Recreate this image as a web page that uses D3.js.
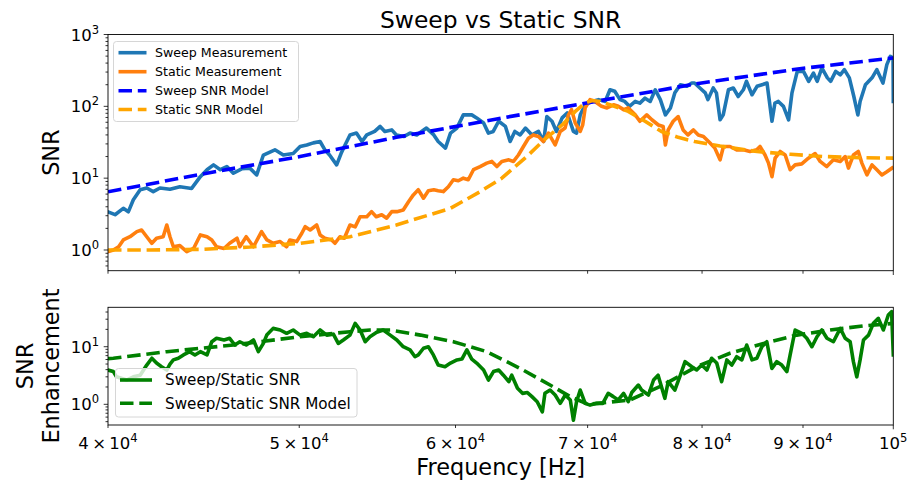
<html>
<head>
<script src="https://d3js.org/d3.v7.min.js"></script>
<style>
  body { margin: 0; background: #fff; }
  text { font-family: "DejaVu Sans", sans-serif; fill: #000; }
</style>
</head>
<body>
<div id="cont"></div>
<script>
// frequencies in kHz, values are linear SNR
var sweepMeas = [[40.0,3.4],[40.33,3.1],[40.72,3.8],[40.96,3.4],[41.2,5.0],[41.53,6.9],[41.85,7.3],[42.17,6.5],[42.5,7.3],[43.0,7.0],[43.5,7.6],[44.1,7.2],[44.55,10.5],[44.9,13.1],[45.24,15.3],[45.6,13.1],[45.95,14.5],[46.3,11.7],[46.75,13.5],[47.2,13.8],[47.58,11.1],[47.95,21],[48.6,24.8],[49.08,21],[49.65,22],[50.05,27.6],[50.44,29],[50.83,31],[51.23,32.4],[51.52,24.8],[51.8,21],[52.23,15.3],[52.5,22],[52.7,27.6],[53.05,40],[53.45,42.4],[53.8,32.4],[54.1,40],[54.6,44.7],[54.95,52.5],[55.25,44.7],[55.7,47],[56.0,40],[56.5,38],[56.9,42.4],[57.35,40],[58.0,49.8],[58.5,40],[58.8,32.4],[59.3,26.2],[59.65,42.4],[60.1,49.8],[60.55,76],[61.15,76],[61.5,69],[62.0,58.5],[62.35,42.4],[62.7,44.7],[63.1,62],[63.6,52.5],[63.95,32.4],[64.3,44.7],[64.7,40],[65.1,49.8],[65.6,40],[66.1,44.7],[66.5,32.4],[66.75,72],[67.15,62],[67.5,44.7],[67.95,69],[68.35,80.7],[68.85,44.7],[69.1,42.4],[69.4,76],[69.8,105],[70.35,117],[70.9,124],[71.45,117],[71.85,170],[72.25,162],[72.7,124],[73.1,117],[73.5,100],[74.0,117],[74.4,111],[74.85,130],[75.3,117],[75.75,170],[76.2,124],[76.65,76],[77.1,95],[77.5,154],[78.0,200],[78.6,190],[79.05,211],[79.3,211],[79.8,180],[80.3,154],[80.55,124],[81.05,180],[81.35,154],[81.7,65],[82.0,76],[82.5,170],[82.97,180],[83.45,137],[83.95,170],[84.25,223],[84.8,145],[85.3,190],[85.8,200],[86.3,211],[86.8,62],[87.1,111],[87.45,117],[87.97,100],[88.5,65],[88.85,154],[89.4,307],[90.05,307],[90.6,223],[91.1,290],[91.5,223],[92.0,342],[92.6,249],[92.95,223],[93.5,307],[94.0,275],[94.45,324],[95.0,249],[95.5,137],[95.95,76],[96.2,117],[96.8,200],[97.55,249],[98.1,324],[98.8,211],[99.25,380],[99.65,497],[99.97,470],[100.0,117]];

var staticMeas = [[40.0,0.95],[40.25,1.0],[40.5,1.11],[40.72,1.38],[41.04,1.53],[41.37,1.8],[41.6,1.9],[41.85,1.53],[42.1,1.24],[42.33,1.46],[42.66,1.53],[42.84,2.23],[43.0,1.53],[43.17,1.11],[43.5,1.15],[43.85,0.95],[44.2,1.05],[44.55,1.62],[44.9,1.53],[45.15,1.38],[45.4,1.11],[45.8,1.05],[46.1,1.24],[46.5,1.46],[46.65,1.11],[47.0,1.53],[47.4,1.11],[47.85,1.8],[48.15,1.38],[48.5,1.24],[48.9,1.31],[49.27,1.11],[49.45,1.38],[49.85,1.31],[50.15,1.71],[50.35,2.11],[50.64,1.9],[51.03,2.23],[51.23,1.62],[51.52,1.46],[51.93,1.38],[52.13,1.24],[52.43,1.53],[52.7,1.46],[53.05,2.23],[53.37,2.1],[53.68,2.9],[54.1,2.9],[54.4,3.42],[54.7,2.9],[55.05,3.1],[55.37,2.77],[55.7,3.42],[56.03,3.42],[56.45,3.6],[56.8,4.7],[57.12,5.85],[57.45,6.9],[57.8,5.26],[58.13,6.7],[58.5,6.9],[58.8,6.7],[59.15,6.5],[59.5,7.6],[59.85,9.5],[60.2,9.2],[60.55,10],[60.9,9.5],[61.27,13.1],[61.75,14.5],[62.23,16.2],[62.6,17.1],[62.97,14.5],[63.33,17.1],[63.85,18],[64.2,17.1],[64.57,21],[64.95,27.6],[65.33,36],[65.7,40],[66.1,38],[66.48,32.4],[66.87,42.4],[67.4,29],[67.8,44.7],[68.18,49.8],[68.45,76],[68.7,90],[69.0,58.5],[69.4,44.7],[69.6,55],[69.8,95],[70.2,124],[70.6,117],[71.15,100],[71.6,95],[72.15,105],[72.55,100],[73.0,90],[73.4,95],[74.0,76],[74.4,62],[75.0,76],[75.45,65],[76.03,55],[76.45,52.5],[76.65,29],[76.9,47],[77.35,62],[77.8,72],[78.25,47],[78.7,40],[79.2,47],[79.65,40],[80.13,38],[80.75,30.8],[81.2,26.2],[81.7,18],[82.02,27.6],[82.65,27.6],[83.3,24.8],[83.96,24.8],[84.6,23.5],[85.27,24.8],[85.6,27.6],[86.1,21],[86.45,16.2],[86.8,10.5],[87.12,19],[87.63,23.5],[88.15,21],[88.66,13.1],[89.18,15.3],[89.87,15.8],[90.57,19],[91.28,22],[91.82,17.1],[92.53,14.5],[93.25,18],[94.0,17.1],[94.54,20],[94.9,13.8],[95.45,21],[96.0,23.5],[96.4,16.2],[96.97,11.1],[97.55,15.3],[98.1,13.1],[98.68,11.1],[99.25,12.3],[99.85,13.8]];

var sweepModel = [[40.0,6.45],[44.55,11.3],[50.05,20],[56.0,37],[63.33,68.7],[71.0,120],[79.8,210],[89.65,334],[100.0,472]];

var staticModel = [[40.0,1.0],[42.0,1.0],[44.55,1.02],[47.2,1.1],[50.05,1.24],[53.05,1.53],[56.0,2.23],[59.65,3.8],[61.75,6.5],[63.33,10],[65.33,21],[66.6,35],[67.95,55],[69.0,85],[69.8,112],[70.4,120],[71.0,117],[71.85,105],[73.4,85],[74.85,62],[76.3,44.7],[77.8,37],[79.3,32.4],[81.7,28],[85.3,23.5],[88.7,21.5],[92.2,20],[96.2,19.3],[100.0,19]];

var ratioMeas = [[40.0,3.94],[40.25,3.7],[40.4,3.0],[40.88,2.64],[41.2,3.0],[41.53,3.2],[41.85,4.8],[42.1,6.3],[42.33,5.2],[42.58,4.5],[42.84,3.94],[43.0,5.0],[43.17,5.9],[43.42,6.3],[43.68,7.2],[44.0,8.2],[44.27,7.2],[44.55,8.2],[44.9,7.2],[45.15,12.2],[45.4,14],[45.8,13.1],[46.1,14],[46.38,10.7],[46.65,12.2],[47.0,10.7],[47.4,13.1],[47.67,8.2],[47.95,11.4],[48.14,15.9],[48.5,20.8],[48.9,19.5],[49.27,17.1],[49.65,19.5],[50.05,15.9],[50.44,17.1],[50.83,14.9],[51.23,19.5],[51.63,15.9],[52.03,16.5],[52.33,11.4],[52.64,13.1],[53.05,15.9],[53.37,25.4],[53.68,19.5],[54.0,12.2],[54.3,14.9],[54.73,17.8],[55.15,19.5],[55.6,15.9],[56.03,13.1],[56.45,10],[56.9,8.8],[57.23,6.7],[57.45,7.2],[57.8,9.4],[58.13,10],[58.47,7.2],[58.8,4.8],[59.27,4.5],[59.65,5.2],[60.1,5.9],[60.45,6.1],[60.8,8.8],[61.15,6.1],[61.5,5.2],[62.0,3.94],[62.35,2.64],[62.72,3.7],[63.1,3.94],[63.45,3.2],[63.85,2.47],[64.07,3.2],[64.5,1.9],[64.88,1.55],[65.25,1.6],[65.6,1.36],[66.0,1.11],[66.4,0.74],[66.6,1.55],[67.0,1.77],[67.4,1.45],[67.8,1.04],[68.2,1.45],[68.6,1.19],[68.85,0.53],[69.1,1.11],[69.4,1.77],[69.8,1.04],[70.2,0.97],[70.75,1.04],[71.25,1.04],[71.7,1.55],[72.13,1.36],[72.55,1.19],[73.0,1.55],[73.4,1.11],[73.7,1.6],[74.27,2.16],[74.55,1.77],[75.15,1.45],[75.6,2.64],[76.0,3.2],[76.6,1.27],[76.9,2.47],[77.5,1.77],[78.0,3.2],[78.43,5.5],[79.05,4.5],[79.5,3.94],[79.97,4.8],[80.45,3.94],[80.9,6.3],[81.38,5.2],[81.85,2.47],[82.35,5.9],[82.82,4.8],[83.3,6.7],[83.8,5.9],[84.28,10.7],[84.8,5.9],[85.28,6.3],[85.78,10],[86.28,12.2],[86.79,4.2],[87.29,5.5],[87.8,4.8],[88.32,3.7],[88.66,7.2],[89.18,19.5],[89.87,17.1],[90.4,14],[90.94,10],[91.48,14.9],[92.0,19.5],[92.55,14],[93.25,12.2],[94.0,20.8],[94.54,14],[95.09,12.2],[95.45,5.5],[95.83,3.0],[96.2,5.9],[96.58,13.1],[97.15,15.9],[97.7,25.4],[98.27,31],[98.85,19.5],[99.42,35.5],[99.8,40.6],[100.0,7.2]];

var ratioModel = [[40.0,6.2],[40.25,6.3],[42.84,8.2],[46.3,10.7],[50.05,14.9],[53.05,18.2],[54.3,19.5],[55.6,19.5],[57.6,15.9],[59.85,12.2],[62.23,8.2],[64.7,4.2],[67.0,2.16],[68.6,1.36],[70.05,1.0],[73.55,1.19],[76.45,2.16],[79.5,4.5],[82.65,7.7],[85.95,11.4],[89.35,15.9],[92.9,19.5],[96.6,23],[100.0,25.4]];

// tick labels
var topYTicks = [1, 10, 100, 1000];
var topYLabels = [["10","0"],["10","1"],["10","2"],["10","3"]];
var botYTicks = [1, 10];
var botYLabels = [["10","0"],["10","1"]];
var xTicks = [40000, 50000, 60000, 70000, 80000, 90000, 100000];
var xLabels = [["4\u2009×\u200910","4"],["5\u2009×\u200910","4"],["6\u2009×\u200910","4"],["7\u2009×\u200910","4"],["8\u2009×\u200910","4"],["9\u2009×\u200910","4"],["10","5"]];

var topLegend = ["Sweep Measurement", "Static Measurement", "Sweep SNR Model", "Static SNR Model"];
var botLegend = ["Sweep/Static SNR", "Sweep/Static SNR Model"];

var svg = d3.select("#cont").append("svg")
    .attr("width", 907)
    .attr("height", 483);
svg.append("rect").attr("width", 907).attr("height", 483).attr("fill", "#fff");

var left = 108, right = 893.3;
var x = d3.scaleLog().domain([40000, 100000]).range([left, right]);
var yTop = d3.scaleLog().domain([0.515, 1000]).range([270.7, 34.5]);
var yBot = d3.scaleLog().domain([0.4375, 48.3]).range([425, 307.3]);

var defs = svg.append("defs");
defs.append("clipPath").attr("id", "clipTop").append("rect")
    .attr("x", left).attr("y", 34.5).attr("width", right - left).attr("height", 270.7 - 34.5);
defs.append("clipPath").attr("id", "clipBot").append("rect")
    .attr("x", left).attr("y", 307.3).attr("width", right - left).attr("height", 425 - 307.3);

var LW = 3.6;
var DASH = "13.5,5.8";

function drawLine(g, data, y, color, dashed) {
    var line = d3.line()
        .x(function (d) { return x(d[0] * 1000); })
        .y(function (d) { return y(d[1]); });
    g.append("path")
        .datum(data)
        .attr("d", line)
        .attr("fill", "none")
        .attr("stroke", color)
        .attr("stroke-width", LW)
        .attr("stroke-linejoin", "round")
        .attr("stroke-linecap", dashed ? "butt" : "square")
        .attr("stroke-dasharray", dashed ? DASH : null);
}

function supText(t, lab, size) {
    t.append("tspan").text(lab[0]);
    t.append("tspan").attr("font-size", size * 0.7).attr("dy", -size * 0.42).text(lab[1]);
}

function drawAxes(y, top, bottom, yTicks, yLabels, xLab) {
    var g = svg.append("g");
    // minor y ticks
    var minors = y.ticks().filter(function (v) { return yTicks.indexOf(v) < 0; });
    g.selectAll(".ymin").data(minors).enter().append("line")
        .attr("x1", left - 2.5).attr("x2", left)
        .attr("y1", function (d) { return y(d); }).attr("y2", function (d) { return y(d); })
        .attr("stroke", "#000").attr("stroke-width", 0.8);
    g.selectAll(".ymaj").data(yTicks).enter().append("line")
        .attr("x1", left - 4.3).attr("x2", left)
        .attr("y1", function (d) { return y(d); }).attr("y2", function (d) { return y(d); })
        .attr("stroke", "#000").attr("stroke-width", 0.8);
    yTicks.forEach(function (v, i) {
        var t = g.append("text")
            .attr("x", left - 8.8).attr("y", y(v) + 6)
            .attr("text-anchor", "end").attr("font-size", 16.5);
        supText(t, yLabels[i], 16.5);
    });
    // x ticks
    g.selectAll(".xt").data(xTicks).enter().append("line")
        .attr("x1", function (d) { return x(d); }).attr("x2", function (d) { return x(d); })
        .attr("y1", bottom).attr("y2", function (d) { return bottom + (d === 100000 ? 4.3 : 3); })
        .attr("stroke", "#000").attr("stroke-width", 0.8);
    if (xLab) {
        xTicks.forEach(function (v, i) {
            var t = g.append("text")
                .attr("x", x(v)).attr("y", 448.5)
                .attr("text-anchor", "middle").attr("font-size", 16.5);
            supText(t, xLabels[i], 16.5);
        });
    }
    g.append("rect")
        .attr("x", left).attr("y", top).attr("width", right - left).attr("height", bottom - top)
        .attr("fill", "none").attr("stroke", "#000").attr("stroke-width", 0.9);
}

function drawLegend(x0, y0, w, h, rows, fs, handle, items) {
    var g = svg.append("g");
    g.append("rect")
        .attr("x", x0).attr("y", y0).attr("width", w).attr("height", h).attr("rx", 3)
        .attr("fill", "#fff").attr("fill-opacity", 0.8)
        .attr("stroke", "#d6d6d6").attr("stroke-width", 1);
    items.forEach(function (it, i) {
        var cy = rows[i];
        g.append("line")
            .attr("x1", handle[0]).attr("x2", handle[1]).attr("y1", cy).attr("y2", cy)
            .attr("stroke", it.color).attr("stroke-width", LW)
            .attr("stroke-dasharray", it.dashed ? DASH : null);
        g.append("text")
            .attr("x", handle[2]).attr("y", cy + fs * 0.36)
            .attr("font-size", fs).text(it.label);
    });
}

// top panel
var gTop = svg.append("g").attr("clip-path", "url(#clipTop)");
drawLine(gTop, sweepMeas, yTop, "#1f77b4", false);
drawLine(gTop, staticMeas, yTop, "#ff7f0e", false);
drawLine(gTop, sweepModel, yTop, "#0000ff", true);
drawLine(gTop, staticModel, yTop, "#ffa500", true);
drawAxes(yTop, 34.5, 270.7, topYTicks, topYLabels, false);

// bottom panel
var gBot = svg.append("g").attr("clip-path", "url(#clipBot)");
drawLine(gBot, ratioMeas, yBot, "#008000", false);
drawLine(gBot, ratioModel, yBot, "#008000", true);
drawAxes(yBot, 307.3, 425, botYTicks, botYLabels, true);

drawLegend(113.5, 41.5, 185, 80, [52.7, 71.7, 90.8, 109.5], 12.6, [118.5, 146.5, 155], [
    { label: topLegend[0], color: "#1f77b4", dashed: false },
    { label: topLegend[1], color: "#ff7f0e", dashed: false },
    { label: topLegend[2], color: "#0000ff", dashed: true },
    { label: topLegend[3], color: "#ffa500", dashed: true }
]);
drawLegend(115.5, 368.5, 241.5, 48.5, [380, 403.3], 15.2, [120, 152, 165], [
    { label: botLegend[0], color: "#008000", dashed: false },
    { label: botLegend[1], color: "#008000", dashed: true }
]);

// titles and labels
svg.append("text").attr("x", (left + right) / 2).attr("y", 28)
    .attr("text-anchor", "middle").attr("font-size", 23.4).text("Sweep vs Static SNR");
svg.append("text").attr("transform", "translate(59,152.6) rotate(-90)")
    .attr("text-anchor", "middle").attr("font-size", 22.4).text("SNR");
svg.append("text").attr("transform", "translate(33,366) rotate(-90)")
    .attr("text-anchor", "middle").attr("font-size", 22.4).text("SNR");
svg.append("text").attr("transform", "translate(59,366) rotate(-90)")
    .attr("text-anchor", "middle").attr("font-size", 22.4).text("Enhancement");
svg.append("text").attr("x", (left + right) / 2).attr("y", 475)
    .attr("text-anchor", "middle").attr("font-size", 22.4).text("Frequency [Hz]");
</script>
</body>
</html>
